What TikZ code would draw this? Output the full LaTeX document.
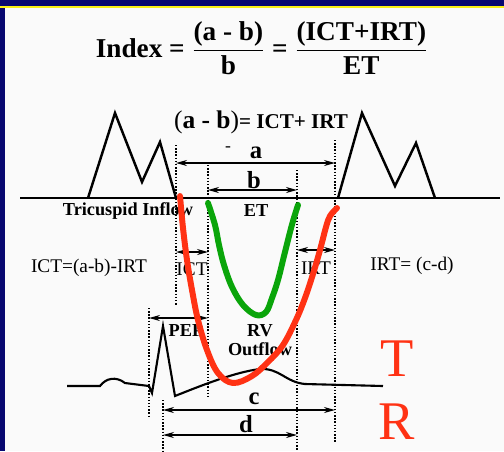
\documentclass[tikz,border=0pt]{standalone}
\usepackage{amsmath}
\usepackage{fontspec}
\setmainfont{Liberation Serif}
\usepackage{tikz}
\usetikzlibrary{positioning, arrows.meta}

\definecolor{navy}{RGB}{8,8,112}
\definecolor{slideyellow}{RGB}{250,240,20}
\definecolor{paper}{RGB}{250,250,250}
\definecolor{tracered}{RGB}{255,50,20}
\definecolor{tracegreen}{RGB}{10,165,10}

\begin{document}
\begin{tikzpicture}[x=0.02cm, y=-0.02cm,
    dim/.style={{Stealth[length=2.2mm,width=1.2mm]}-{Stealth[length=2.2mm,width=1.2mm]}, thick},
    guide/.style={densely dotted, thick},
    wave/.style={line width=1.4pt, line join=miter},
    trace/.style={line width=3.4pt, line cap=round, line join=round},
    lbl/.style={font=\bfseries\fontsize{10.4}{11}\selectfont, inner sep=1pt},
    side/.style={font=\fontsize{11}{12}\selectfont, inner sep=1pt},
    letter/.style={font=\bfseries\fontsize{14}{14}\selectfont, inner sep=0pt},
    big/.style={font=\fontsize{31}{31}\selectfont, text=tracered, inner sep=0pt}
  ]
    \useasboundingbox (0,0) rectangle (504,451);
    % slide frame
    \fill[paper] (0,0) rectangle (504,451);
    \fill[navy] (0,0) rectangle (504,6);
    \fill[slideyellow] (0,6) rectangle (504,8);
    \fill[navy] (0,8) rectangle (5,451);

    % formula
    \node[font=\bfseries\fontsize{15.5}{17}\selectfont] (index) at (262,48)
      {Index = $\dfrac{\textbf{(a - b)}}{\textbf{b}}$ = $\dfrac{\textbf{(ICT+IRT)}}{\textbf{ET}}$};
    \node[inner sep=1pt] (ab) at (261,122)
      {\fontsize{14.5}{15}\selectfont(\textbf{a - b})\bfseries\fontsize{12}{13}\selectfont= ICT+ IRT};

    % baseline and tricuspid inflow
    \coordinate (base0) at (20,198);
    \coordinate (base1) at (500,198);
    \draw[thick] (base0) -- (base1);
    \draw[wave] (88,198) -- (115,113) -- (142,182) -- (160,142) -- (176,198);
    \draw[wave] (338,198) -- (362,113) -- (395,186) -- (416,143) -- (435,198);

    % guide lines
    \coordinate (g1t) at (176,145);  \coordinate (g1b) at (176,305);
    \coordinate (g2t) at (208,165);  \coordinate (g2b) at (208,398);
    \coordinate (g3t) at (297,170);  \coordinate (g3b) at (297,451);
    \coordinate (g4t) at (335,140);  \coordinate (g4b) at (335,443);
    \coordinate (g5t) at (149,308);  \coordinate (g5b) at (149,418);
    \coordinate (g6t) at (163,400);  \coordinate (g6b) at (163,451);
    \foreach \g in {1,...,6}
      \draw[guide] (g\g t) -- (g\g b);

    % intervals
    \coordinate (a0) at (176,163);  \coordinate (a1) at (335,163);
    \coordinate (b0) at (208,190);  \coordinate (b1) at (297,190);
    \coordinate (ict0) at (176,252); \coordinate (ict1) at (208,252);
    \coordinate (irt0) at (297,250); \coordinate (irt1) at (335,250);
    \coordinate (pep0) at (149,318); \coordinate (pep1) at (208,318);
    \coordinate (c0) at (163,410);  \coordinate (c1) at (335,410);
    \coordinate (d0) at (163,435);  \coordinate (d1) at (297,435);
    \foreach \i in {a,b,ict,irt,pep,c,d}
      \draw[dim] (\i0) -- (\i1);

    \node[letter] (la) at (256,153) {a};
    \node[letter] (lb) at (254,180) {b};
    \node[letter] (lc) at (254,399) {c};
    \node[letter] (ld) at (246,424) {d};
    \node[inner sep=0pt] (tick) at (228,149) {-};

    \node[lbl] (inflow) at (128,211) {Tricuspid Inflow};
    \node[lbl] (et) at (256,211) {ET};
    \node[side] (lict) at (192,269) {ICT};
    \node[side] (lirt) at (316,268) {IRT};
    \node[side] (ictdef) at (89,268) {ICT=(a-b)-IRT};
    \node[side] (irtdef) at (412,266) {IRT= (c-d)};
    \node[lbl] (pep) at (186,331) {PEP};
    \node[lbl] (rv) at (260,331) {RV};
    \node[lbl, below=1pt of rv] (outflow) {Outflow};

    % ECG
    \draw[wave, line width=1.2pt] (67,386) -- (100,386)
      .. controls (106,378) and (116,376) .. (125,383) -- (149,386)
      -- (152,393) -- (163,326) -- (175,396)
      .. controls (200,386) and (235,372) .. (260,369)
      .. controls (280,368) and (285,382) .. (305,384) -- (383,386);

    % hand traced curves
    \draw[trace, tracegreen] plot[smooth, tension=0.6] coordinates {
      (208,203) (215,225) (219,245) (224,265) (232,287) (243,305)
      (256,315) (266,312) (272,298) (278,280) (284,256) (289,236)
      (293,221) (298,205)};
    \draw[trace, tracered] plot[smooth, tension=0.6] coordinates {
      (180,196) (183,228) (187,260) (192,290) (198,320) (207,350)
      (218,373) (233,383) (252,376) (268,362) (283,345) (296,320)
      (305,298) (313,274) (320,250) (326,227) (330,216) (337,208)};

    \node[big] (lt) at (397,359) {T};
    \node[big] (lr) at (397,422) {R};
  \end{tikzpicture}
\end{document}
